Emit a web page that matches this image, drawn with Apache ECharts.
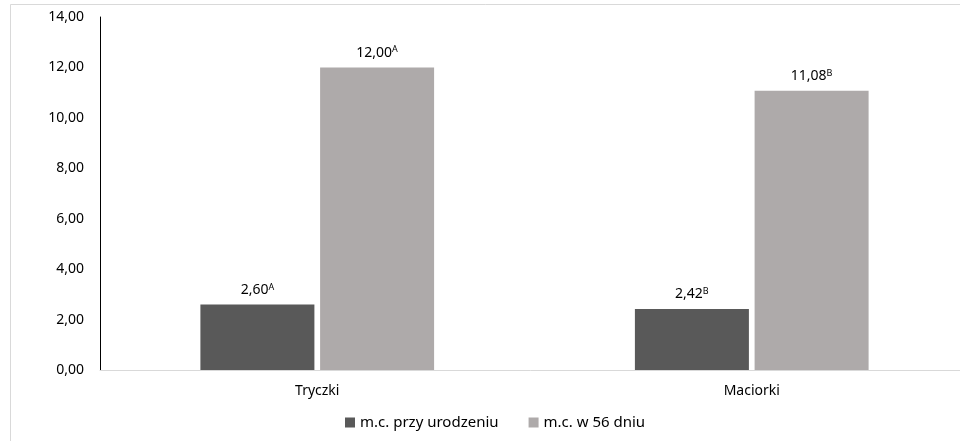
<!DOCTYPE html>
<html>
<head>
<meta charset="utf-8">
<script src="https://cdn.jsdelivr.net/npm/echarts@6/dist/echarts.min.js"></script>
<style>html,body{margin:0;padding:0;background:#fff}#c{width:960px;height:441px}</style>
</head>
<body>
<div id="c"></div>
<script>
const categories = ['Tryczki', 'Maciorki'];
const seriesNames = ['m.c. przy urodzeniu', 'm.c. w 56 dniu'];
const birthValues = [2.60, 2.42];
const day56Values = [12.00, 11.08];
const birthLetters = ['A', 'B'];
const day56Letters = ['A', 'B'];
const yTicks = { min: 0, max: 14, interval: 2 };

const fmt = v => v.toFixed(2).replace('.', ',');
const FONT = 'Noto Sans';
const labelFor = letters => ({
  show: true,
  position: 'top',
  distance: 7,
  formatter: p => '{v|' + fmt(p.value) + '}{s|' + letters[p.dataIndex] + '}',
  rich: {
    v: { fontFamily: FONT, fontSize: 14, color: '#000' },
    s: { fontFamily: FONT, fontSize: 9, color: '#000', verticalAlign: 'top', padding: [0, 0, 6, 0] }
  }
});

const chart = echarts.init(document.getElementById('c'));
chart.setOption({
  animation: false,
  backgroundColor: '#fff',
  graphic: [{
    type: 'rect', silent: true, z: -10,
    shape: { x: 10.5, y: 4.5, width: 1000, height: 500 },
    style: { fill: 'none', stroke: '#d9d9d9', lineWidth: 1 }
  }],
  grid: { left: 100, width: 869, top: 17, bottom: 71, containLabel: false, outerBoundsMode: 'none' },
  legend: {
    bottom: 6, left: 340,
    itemWidth: 10, itemHeight: 10, itemGap: 30,
    icon: 'rect',
    textStyle: { fontFamily: FONT, fontSize: 15, color: '#000' },
    data: seriesNames
  },
  xAxis: {
    type: 'category', data: categories,
    axisLine: { lineStyle: { color: '#d9d9d9', width: 1 } },
    axisTick: { show: false },
    axisLabel: { fontFamily: FONT, fontSize: 14, color: '#000', margin: 14 }
  },
  yAxis: {
    type: 'value', min: yTicks.min, max: yTicks.max, interval: yTicks.interval,
    axisLine: { show: true, lineStyle: { color: '#000', width: 1 } },
    axisTick: { show: false },
    splitLine: { show: false },
    axisLabel: { fontFamily: FONT, fontSize: 14, color: '#000', margin: 16, formatter: v => fmt(v) }
  },
  series: [
    { name: seriesNames[0], type: 'bar', data: birthValues, barWidth: 114, barGap: '5%',
      itemStyle: { color: '#595959' }, label: labelFor(birthLetters) },
    { name: seriesNames[1], type: 'bar', data: day56Values, barWidth: 114, barGap: '5%',
      itemStyle: { color: '#aeaaaa' }, label: labelFor(day56Letters) }
  ]
});
</script>
</body>
</html>
